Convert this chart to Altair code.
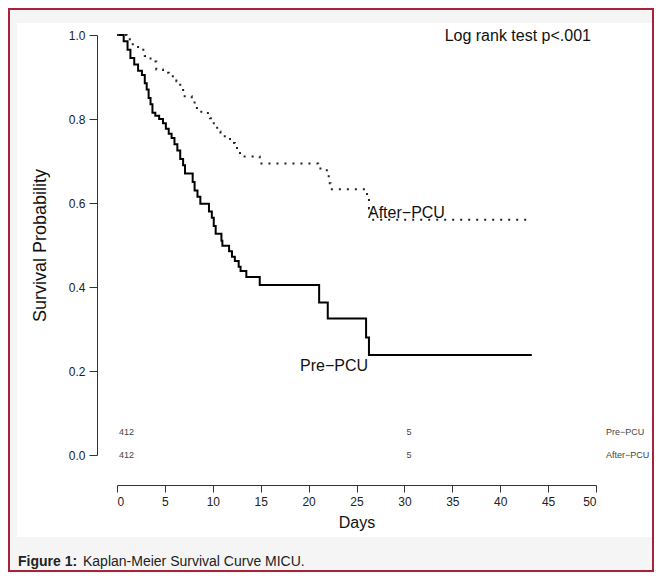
import altair as alt
import pandas as pd

# Kaplan-Meier step data (time in days, survival probability)
pre_times = [0, 0.7, 1.1, 1.4, 1.8, 2.2, 2.6, 2.9, 3.1, 3.3, 3.5, 3.7, 4.0, 4.4, 4.8, 5.1, 5.4,
             5.7, 6.0, 6.3, 6.6, 6.9, 7.1, 7.9, 8.1, 8.4, 8.7, 9.6, 9.9, 10.1, 10.3, 10.9, 11.0,
             11.7, 12.0, 12.3, 12.7, 12.9, 13.5, 14.9, 21.1, 22.0, 26.0, 26.3, 43.3]
pre_surv = [1.0, 0.985, 0.965, 0.945, 0.93, 0.915, 0.905, 0.885, 0.87, 0.85, 0.835, 0.815, 0.808,
            0.8, 0.79, 0.777, 0.765, 0.755, 0.74, 0.725, 0.705, 0.69, 0.67, 0.65, 0.63, 0.615,
            0.598, 0.58, 0.565, 0.545, 0.527, 0.51, 0.498, 0.485, 0.472, 0.462, 0.448, 0.438,
            0.424, 0.405, 0.363, 0.325, 0.28, 0.238, 0.238]

after_times = [0, 1.0, 1.5, 2.2, 2.9, 3.5, 4.1, 4.8, 5.4, 6.2, 6.6, 6.9, 7.8, 8.1, 8.8, 9.7, 9.9,
               10.1, 10.6, 10.8, 11.6, 11.8, 12.3, 12.7, 13.2, 14.9, 21.0, 21.9, 22.1, 22.3,
               26.1, 26.3, 26.6, 42.8]
after_surv = [1.0, 0.99, 0.978, 0.965, 0.95, 0.937, 0.918, 0.91, 0.902, 0.89, 0.872, 0.854, 0.846,
              0.826, 0.814, 0.802, 0.79, 0.779, 0.77, 0.759, 0.755, 0.743, 0.731, 0.719, 0.711,
              0.694, 0.682, 0.667, 0.647, 0.633, 0.611, 0.587, 0.56, 0.56]

# Numbers at risk
risk_days = [0, 30, 0, 30]
risk_rows = [0.055, 0.055, 0.0, 0.0]
risk_text = ["412", "5", "412", "5"]
risk_group_labels = ["Pre\u2212PCU", "After\u2212PCU"]
risk_group_y = [0.055, 0.0]

# Annotations
ann_text = ["After\u2212PCU", "Pre\u2212PCU", "Log rank test p<.001"]
ann_x = [26.2, 19.1, 34.2]
ann_y = [0.576, 0.212, 0.998]

x_ticks = list(range(0, 51, 5))
y_ticks = [0.0, 0.2, 0.4, 0.6, 0.8, 1.0]

FONT = "Liberation Sans"

pre_df = pd.DataFrame({"day": pre_times, "surv": pre_surv})
after_df = pd.DataFrame({"day": after_times, "surv": after_surv})
risk_df = pd.DataFrame({"day": risk_days, "row": risk_rows, "n": risk_text})
grp_df = pd.DataFrame({"label": risk_group_labels, "row": risk_group_y})
ann_df = pd.DataFrame({"text": ann_text, "x": ann_x, "y": ann_y})
one = pd.DataFrame({"k": [0]})

xs = alt.Scale(domain=[0, 50], nice=False)
ys = alt.Scale(domain=[0, 1], nice=False)

x_axis = alt.Axis(values=x_ticks, title="Days", offset=30, tickSize=7, labelPadding=4,
                  titlePadding=7, titleFontSize=16, titleFontWeight="normal", labelFontSize=12,
                  grid=False, domainColor="#333", tickColor="#333", labelColor="#222",
                  titleColor="#111", labelFont=FONT, titleFont=FONT, zindex=1)
y_axis = alt.Axis(values=y_ticks, format=".1f", title="Survival Probability", offset=20,
                  tickSize=8, labelPadding=4, titlePadding=19, titleFontSize=18,
                  titleFontWeight="normal", labelFontSize=12, grid=False, domainColor="#333",
                  tickColor="#333", labelColor="#222", titleColor="#111", labelFont=FONT,
                  titleFont=FONT, zindex=1)

# decorative frame
white_panel = alt.Chart(one).mark_rect(color="white").encode(
    x=alt.value(-100), x2=alt.value(536), y=alt.value(-12), y2=alt.value(502))
frame = alt.Chart(one).mark_rect(fill=None, stroke="#a8223c", strokeWidth=2).encode(
    x=alt.value(-108), x2=alt.value(536), y=alt.value(-26), y2=alt.value(536))

pre_line = alt.Chart(pre_df).mark_line(interpolate="step-after", color="black",
                                       strokeWidth=2).encode(
    x=alt.X("day:Q", scale=xs, axis=x_axis),
    y=alt.Y("surv:Q", scale=ys, axis=y_axis))
after_line = alt.Chart(after_df).mark_line(interpolate="step-after", color="#222",
                                           strokeWidth=2, strokeDash=[2, 6]).encode(
    x=alt.X("day:Q", scale=xs), y=alt.Y("surv:Q", scale=ys))

ann = alt.Chart(ann_df).mark_text(align="left", baseline="middle", font=FONT, fontSize=16,
                                  color="#111").encode(
    x=alt.X("x:Q", scale=xs), y=alt.Y("y:Q", scale=ys), text="text:N")

risk = alt.Chart(risk_df).mark_text(align="left", baseline="middle", font=FONT, fontSize=9,
                                    color="#444", dx=2).encode(
    x=alt.X("day:Q", scale=xs), y=alt.Y("row:Q", scale=ys), text="n:N")

grp = alt.Chart(grp_df).mark_text(align="left", baseline="middle", font=FONT, fontSize=9,
                                  color="#444").encode(
    x=alt.value(489), y=alt.Y("row:Q", scale=ys), text="label:N")

cap_bold = alt.Chart(one).mark_text(align="left", baseline="middle", font=FONT, fontSize=14,
                                    fontWeight="bold", color="#222").encode(
    x=alt.value(-99), y=alt.value(527), text=alt.value("Figure 1:"))
cap_rest = alt.Chart(one).mark_text(align="left", baseline="middle", font=FONT, fontSize=14,
                                    color="#222").encode(
    x=alt.value(-34), y=alt.value(527), text=alt.value("Kaplan-Meier Survival Curve MICU."))

chart = alt.layer(white_panel, frame, pre_line, after_line, ann, risk, grp, cap_bold,
                  cap_rest).properties(
    width=479, height=420,
    padding={"left": 109, "top": 27, "right": 58, "bottom": 118},
    autosize=alt.AutoSizeParams(type="none"),
    background="#f5f5f5",
).configure_view(stroke=None)

chart.save("out.html", embed_options={"renderer": "svg", "actions": False})
